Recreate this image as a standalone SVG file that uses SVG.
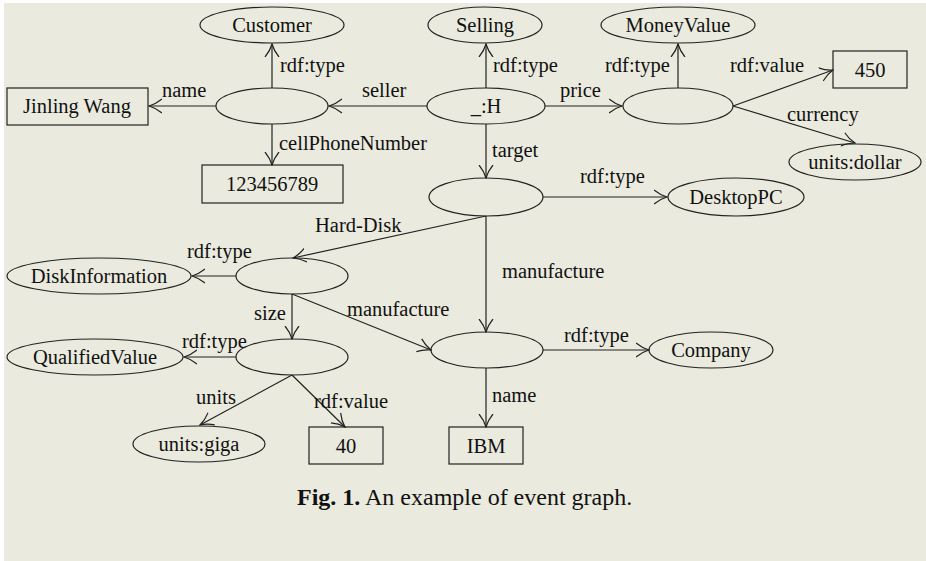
<svg xmlns="http://www.w3.org/2000/svg" width="926" height="561" viewBox="0 0 926 561">
<style>
.n{fill:none;stroke:#222;stroke-width:1.2}
.t{font-family:"Liberation Serif","Times New Roman",serif;font-size:20.5px;fill:#111;text-anchor:middle}
.l{font-family:"Liberation Serif","Times New Roman",serif;font-size:20.5px;fill:#111}
.e{fill:none;stroke:#222;stroke-width:1.2}
.cap{font-family:"Liberation Serif","Times New Roman",serif;font-size:24px;fill:#111}
</style>
<defs>
<marker id="a" markerWidth="14" markerHeight="16" refX="13" refY="8" orient="auto" markerUnits="userSpaceOnUse">
<path d="M0,1 Q6,6 13,8 Q6,10 0,15" fill="none" stroke="#222" stroke-width="1.2"/>
</marker>
</defs>
<rect x="0" y="0" width="926" height="561" fill="#fff"/>
<rect x="4" y="3" width="922" height="558" fill="#EAEADE"/>

<g id="connectors">
<line class="e" x1="272" y1="88" x2="272" y2="44" marker-end="url(#a)"/>
<line class="e" x1="216" y1="106" x2="149" y2="106" marker-end="url(#a)"/>
<line class="e" x1="272" y1="124" x2="272" y2="165" marker-end="url(#a)"/>
<line class="e" x1="427" y1="106" x2="329" y2="106" marker-end="url(#a)"/>
<line class="e" x1="486" y1="88" x2="486" y2="44" marker-end="url(#a)"/>
<line class="e" x1="545" y1="106" x2="622" y2="106" marker-end="url(#a)"/>
<line class="e" x1="486" y1="124" x2="486" y2="178" marker-end="url(#a)"/>
<line class="e" x1="678" y1="88" x2="678" y2="44" marker-end="url(#a)"/>
<line class="e" x1="733" y1="106" x2="833" y2="70" marker-end="url(#a)"/>
<line class="e" x1="733" y1="106" x2="855" y2="143" marker-end="url(#a)"/>
<line class="e" x1="543" y1="197" x2="667" y2="197" marker-end="url(#a)"/>
<line class="e" x1="486" y1="216" x2="293" y2="258" marker-end="url(#a)"/>
<line class="e" x1="486" y1="216" x2="486" y2="332" marker-end="url(#a)"/>
<line class="e" x1="236" y1="276" x2="192" y2="276" marker-end="url(#a)"/>
<line class="e" x1="292" y1="294" x2="292" y2="339" marker-end="url(#a)"/>
<line class="e" x1="292" y1="294" x2="431" y2="350" marker-end="url(#a)"/>
<line class="e" x1="236" y1="357" x2="184" y2="357" marker-end="url(#a)"/>
<line class="e" x1="292" y1="375" x2="200" y2="425" marker-end="url(#a)"/>
<line class="e" x1="292" y1="375" x2="345" y2="427" marker-end="url(#a)"/>
<line class="e" x1="543" y1="350" x2="649" y2="350" marker-end="url(#a)"/>
<line class="e" x1="486" y1="368" x2="486" y2="427" marker-end="url(#a)"/>
<text class="l" x="280" y="72">rdf:type</text>
<text class="l" x="162" y="97">name</text>
<text class="l" x="279" y="150">cellPhoneNumber</text>
<text class="l" x="362" y="97">seller</text>
<text class="l" x="493" y="72">rdf:type</text>
<text class="l" x="560" y="97">price</text>
<text class="l" x="492" y="157">target</text>
<text class="l" x="605" y="72">rdf:type</text>
<text class="l" x="730" y="72">rdf:value</text>
<text class="l" x="787" y="121">currency</text>
<text class="l" x="580" y="183">rdf:type</text>
<text class="l" x="315" y="232">Hard-Disk</text>
<text class="l" x="502" y="278">manufacture</text>
<text class="l" x="187" y="258">rdf:type</text>
<text class="l" x="254" y="320">size</text>
<text class="l" x="347" y="316">manufacture</text>
<text class="l" x="182" y="348">rdf:type</text>
<text class="l" x="196" y="404">units</text>
<text class="l" x="314" y="408">rdf:value</text>
<text class="l" x="564" y="342">rdf:type</text>
<text class="l" x="492" y="402">name</text>
</g>

<g id="customer"><ellipse class="n" cx="272" cy="25" rx="72" ry="18"/><text class="t" x="272" y="32">Customer</text></g>
<g id="jinling"><rect class="n" x="7" y="88" width="141" height="37"/><text class="t" x="77" y="113">Jinling Wang</text></g>
<g id="seller-node"><ellipse class="n" cx="272" cy="106" rx="56" ry="18"/></g>
<g id="phone"><rect class="n" x="202" y="165" width="141" height="38"/><text class="t" x="272" y="191">123456789</text></g>
<g id="selling"><ellipse class="n" cx="485" cy="25" rx="57" ry="18"/><text class="t" x="485" y="32">Selling</text></g>
<g id="h"><ellipse class="n" cx="486" cy="106" rx="59" ry="18"/><text class="t" x="486" y="113">_:H</text></g>
<g id="moneyvalue"><ellipse class="n" cx="678" cy="25" rx="77" ry="18"/><text class="t" x="678" y="32">MoneyValue</text></g>
<g id="price-node"><ellipse class="n" cx="678" cy="106" rx="55" ry="18"/></g>
<g id="v450"><rect class="n" x="833" y="51" width="74" height="37"/><text class="t" x="870" y="77">450</text></g>
<g id="dollar"><ellipse class="n" cx="855" cy="162" rx="66" ry="18"/><text class="t" x="855" y="169">units:dollar</text></g>
<g id="target-node"><ellipse class="n" cx="486" cy="197" rx="57" ry="19"/></g>
<g id="desktoppc"><ellipse class="n" cx="736" cy="197" rx="68" ry="19"/><text class="t" x="736" y="204">DesktopPC</text></g>
<g id="disk-node"><ellipse class="n" cx="292" cy="276" rx="56" ry="18"/></g>
<g id="diskinfo"><ellipse class="n" cx="99" cy="276" rx="92" ry="18"/><text class="t" x="99" y="283">DiskInformation</text></g>
<g id="size-node"><ellipse class="n" cx="292" cy="357" rx="56" ry="18"/></g>
<g id="qualified"><ellipse class="n" cx="95" cy="357" rx="88" ry="18"/><text class="t" x="95" y="364">QualifiedValue</text></g>
<g id="giga"><ellipse class="n" cx="199" cy="444" rx="66" ry="18"/><text class="t" x="199" y="451">units:giga</text></g>
<g id="v40"><rect class="n" x="309" y="427" width="74" height="37"/><text class="t" x="346" y="453">40</text></g>
<g id="company-node"><ellipse class="n" cx="487" cy="350" rx="56" ry="18"/></g>
<g id="company"><ellipse class="n" cx="711" cy="350" rx="62" ry="18"/><text class="t" x="711" y="357">Company</text></g>
<g id="ibm"><rect class="n" x="449" y="427" width="74" height="37"/><text class="t" x="486" y="453">IBM</text></g>

<text class="cap" x="297" y="505"><tspan font-weight="bold">Fig. 1.</tspan> An example of event graph.</text>
</svg>
